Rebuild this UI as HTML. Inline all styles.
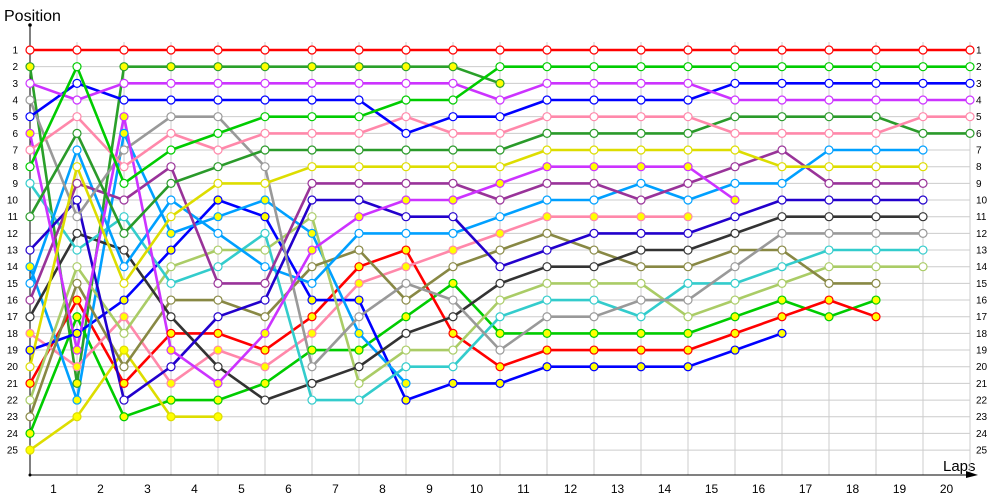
<!DOCTYPE html>
<html><head><meta charset="utf-8">
<style>
html,body{margin:0;padding:0;background:#fff;}
svg{display:block;font-family:"Liberation Sans",sans-serif;}
</style></head>
<body>
<svg id="c" width="1000" height="500" xmlns="http://www.w3.org/2000/svg">
<text x="4" y="21" font-size="16" fill="#000">Position</text>
<text x="943" y="471" font-size="15" fill="#000">Laps</text>
<g id="grid"></g>
<line x1="30" y1="25" x2="30" y2="475" stroke="#000" stroke-width="1"/>
<circle cx="30" cy="25" r="1.8" fill="#000"/>
<circle cx="30" cy="475" r="1.5" fill="#000"/>
<line x1="30" y1="475" x2="972" y2="475" stroke="#000" stroke-width="1"/>
<polygon points="966,471 978,475 966,478" fill="#000"/>
<g id="series"></g>
</svg>
<script>
var NS="http://www.w3.org/2000/svg";
function X(c){return 30+47*c;}
function Y(p){return 50+(p-1)*16.67;}
var g=document.getElementById('grid');
function el(parent,tag,attrs,text){var e=document.createElementNS(NS,tag);for(var k in attrs)e.setAttribute(k,attrs[k]);if(text!==undefined)e.textContent=text;parent.appendChild(e);return e;}
for(var p=1;p<=25;p++){
  el(g,'line',{x1:30,x2:970,y1:Y(p),y2:Y(p),stroke:'#cccccc','stroke-width':1});
  el(g,'text',{x:18,y:Y(p)+3.5,'font-size':10,'text-anchor':'end',fill:'#000'},p);
  el(g,'text',{x:976,y:Y(p)+3.5,'font-size':10,fill:'#000'},p);
}
for(var c=1;c<=20;c++){
  el(g,'line',{x1:X(c),x2:X(c),y1:42,y2:475,stroke:'#cccccc','stroke-width':1});
  el(g,'text',{x:X(c)-23.5,y:493,'font-size':12,'text-anchor':'middle',fill:'#000'},c);
}
var W='#fff',YF='#ffff00';
var S=[
 ['#2aa02a',YF,[2,21,2,2,2,2,2,2,2,2,3]],
 ['#00cc00',YF,[24,17,23,22,22,21,19,19,17,15,18,18,18,18,18,17,16,17,16]],
 ['#ff0000',YF,[21,16,21,18,18,19,17,14,13,18,20,19,19,19,19,18,17,16,17]],
 ['#ff88aa',YF,[18,20,17,21,19,20,18,15,14,13,12,11,11,11,11]],
 ['#0000ff',YF,[19,18,16,13,10,11,16,16,22,21,21,20,20,20,20,19,18]],
 ['#dddd00',YF,[25,23,19,23,23]],
 ['#00a0ff',YF,[14,22,6,12,11,10,12,18,21]],
 ['#aacc66',W,[22,14,18,14,13,13,11,21,19,19,16,15,15,15,17,16,15,14,14,14]],
 ['#888844',W,[23,15,20,16,16,17,14,13,16,14,13,12,13,14,14,13,13,15,15]],
 ['#333333',W,[17,12,13,17,20,22,21,20,18,17,15,14,14,13,13,12,11,11,11,11]],
 ['#33cccc',W,[9,13,11,15,14,12,22,22,20,20,17,16,16,17,15,15,14,13,13,13]],
 ['#00a0ff',W,[15,7,14,10,12,14,15,12,12,12,11,10,10,9,10,9,9,7,7,7]],
 ['#2200cc',W,[13,10,22,20,17,16,10,10,11,11,14,13,12,12,12,11,10,10,10,10]],
 ['#993399',W,[16,9,10,8,15,15,9,9,9,9,10,9,9,10,9,8,7,9,9,9]],
 ['#999999',W,[4,11,7,5,5,8,20,17,15,16,19,17,17,16,16,14,12,12,12,12]],
 ['#cc33ff',YF,[6,19,5,19,21,18,13,11,10,10,9,8,8,8,8,10]],
 ['#dddd00',W,[20,8,15,11,9,9,8,8,8,8,8,7,7,7,7,7,8,8,8,8]],
 ['#2a9a2a',W,[11,6,12,9,8,7,7,7,7,7,7,6,6,6,6,5,5,5,5,6,6]],
 ['#ff88aa',W,[7,5,8,6,7,6,6,6,5,6,6,5,5,5,5,6,6,6,6,5,5]],
 ['#0000ff',W,[5,3,4,4,4,4,4,4,6,5,5,4,4,4,4,3,3,3,3,3,3]],
 ['#cc33ff',W,[3,4,3,3,3,3,3,3,3,3,4,3,3,3,3,4,4,4,4,4,4]],
 ['#00cc00',W,[8,2,9,7,6,5,5,5,4,4,2,2,2,2,2,2,2,2,2,2,2]],
 ['#ff0000',W,[1,1,1,1,1,1,1,1,1,1,1,1,1,1,1,1,1,1,1,1,1]]
];
var sg=document.getElementById('series');
S.forEach(function(s){
  var pts=s[2].map(function(p,i){return X(i)+','+Y(p).toFixed(1);}).join(' ');
  el(sg,'polyline',{points:pts,fill:'none',stroke:s[0],'stroke-width':2.6,'stroke-linejoin':'round'});
});
S.forEach(function(s){
  s[2].forEach(function(p,i){
    el(sg,'circle',{cx:X(i),cy:Y(p),r:4,fill:s[1],stroke:s[0],'stroke-width':1.2});
  });
});
</script>
</body></html>
